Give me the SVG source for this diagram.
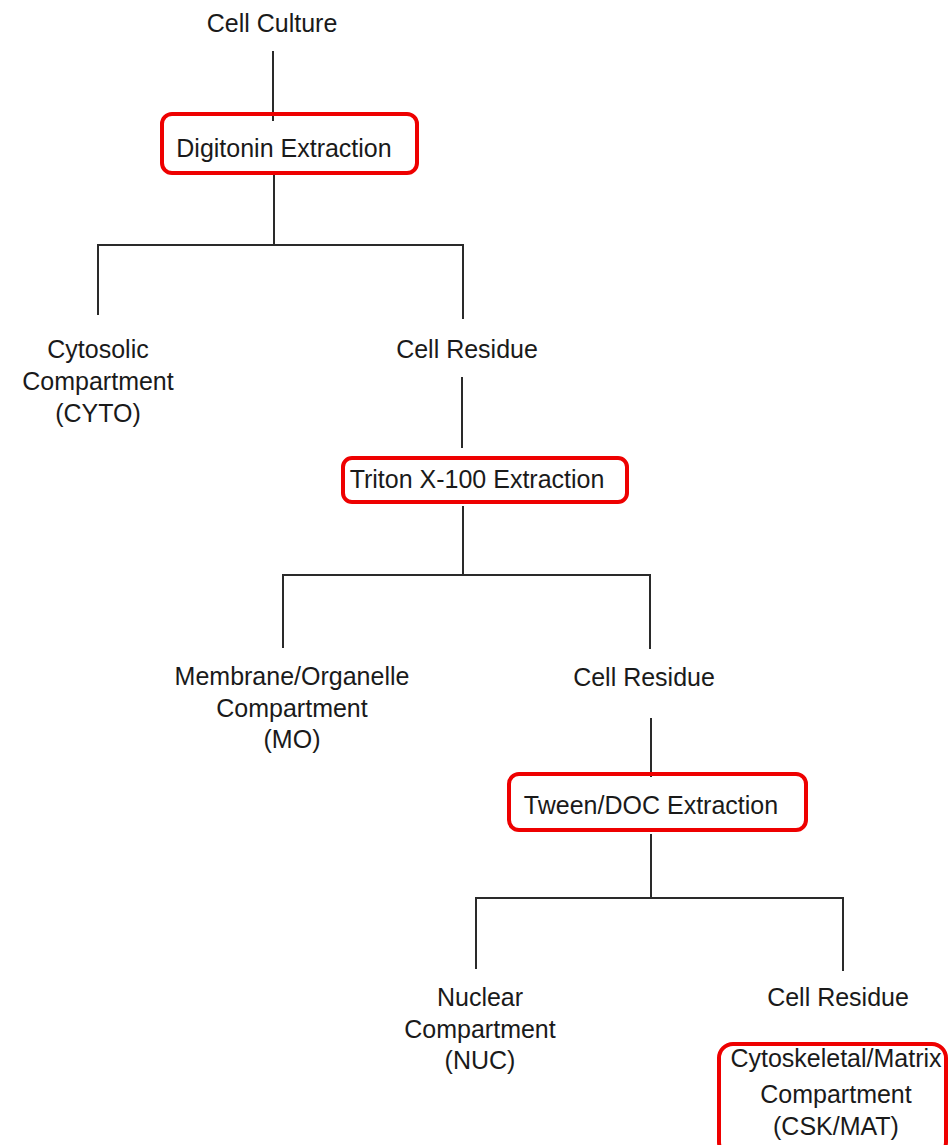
<svg xmlns="http://www.w3.org/2000/svg" width="949" height="1145" viewBox="0 0 949 1145">
<style>
.t{font-family:"Liberation Sans",Arial,sans-serif;font-size:25px;fill:#1a1a1a;text-anchor:middle}
.c{stroke:#2a2a2a;stroke-width:2;fill:none;stroke-linecap:square}
.b{fill:none;stroke:#ee0000;stroke-width:4}
</style>
<rect width="949" height="1145" fill="#ffffff"/>
<g id="connectors">
<path class="c" d="M273 52V120"/>
<path class="c" d="M274 176V245M98 245H463M98 245V314M463 245V318"/>
<path class="c" d="M462 378V447"/>
<path class="c" d="M463 507V575M283 575H650M283 575V647M650 575V648"/>
<path class="c" d="M651 719V776"/>
<path class="c" d="M651 835V898M476 898H843M476 898V968M843 898V970"/>
</g>
<g id="cell-culture"><text class="t" x="272" y="32">Cell Culture</text></g>
<g id="digitonin"><rect class="b" x="162" y="114" width="255" height="59" rx="10"/><text class="t" x="284" y="157">Digitonin Extraction</text></g>
<g id="cyto"><text class="t" x="98" y="358">Cytosolic</text><text class="t" x="98" y="390">Compartment</text><text class="t" x="98" y="422">(CYTO)</text></g>
<g id="residue1"><text class="t" x="467" y="358">Cell Residue</text></g>
<g id="triton"><rect class="b" x="343" y="458" width="284" height="44" rx="9"/><text class="t" x="477" y="488">Triton X-100 Extraction</text></g>
<g id="mo"><text class="t" x="292" y="685">Membrane/Organelle</text><text class="t" x="292" y="717">Compartment</text><text class="t" x="292" y="748">(MO)</text></g>
<g id="residue2"><text class="t" x="644" y="686">Cell Residue</text></g>
<g id="tween"><rect class="b" x="509" y="774" width="297" height="56" rx="10"/><text class="t" x="651" y="814">Tween/DOC Extraction</text></g>
<g id="nuc"><text class="t" x="480" y="1006">Nuclear</text><text class="t" x="480" y="1038">Compartment</text><text class="t" x="480" y="1069">(NUC)</text></g>
<g id="residue3"><text class="t" x="838" y="1006">Cell Residue</text></g>
<g id="csk"><rect class="b" x="719" y="1044" width="227" height="112" rx="14"/><text class="t" x="836" y="1067">Cytoskeletal/Matrix</text><text class="t" x="836" y="1103">Compartment</text><text class="t" x="836" y="1135">(CSK/MAT)</text></g>
</svg>
